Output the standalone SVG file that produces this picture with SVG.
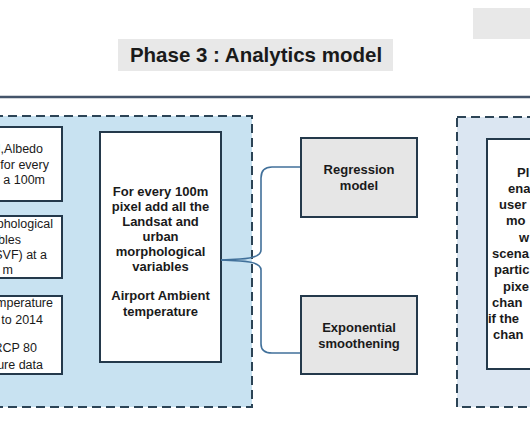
<svg xmlns="http://www.w3.org/2000/svg" width="530" height="443" viewBox="0 0 530 443">
<style>
.bg{fill:#ffffff}
.panelL{fill:#c8e2f1;stroke:#2c4456;stroke-width:2;stroke-dasharray:9 5}
.panelR{fill:#dbe6f2;stroke:#2c4456;stroke-width:2;stroke-dasharray:9 5}
.box{fill:#ffffff;stroke:#24394b;stroke-width:2}
.gbox{fill:#e6e6e6;stroke:#24394b;stroke-width:2}
.t{font-family:"Liberation Sans",Arial,sans-serif;font-size:12.5px;fill:#1a1a1a}
.b{font-family:"Liberation Sans",Arial,sans-serif;font-size:13px;font-weight:bold;fill:#1a1a1a}
.conn{fill:none;stroke:#41709a;stroke-width:1.6}
</style>
<rect class="bg" x="0" y="0" width="530" height="443"/>
<g id="phase4-tab">
<rect x="473" y="8" width="62" height="31" fill="#e8e8e8"/>
</g>
<g id="title">
<rect x="118" y="39" width="275" height="32" fill="#e8e8e8"/>
<text x="256" y="62" text-anchor="middle" font-family="'Liberation Sans',Arial,sans-serif" font-size="20.5" font-weight="bold" fill="#1a1a1a">Phase 3 : Analytics model</text>
</g>
<line x1="0" y1="97" x2="530" y2="97" stroke="#44546a" stroke-width="2.5"/>
<g id="left-panel">
<rect class="panelL" x="-20" y="116" width="272" height="291"/>
</g>
<g id="input-landsat">
<rect class="box" x="-20" y="127" width="82" height="74"/>
<text class="t" text-anchor="end"><tspan x="43" y="153">I,Albedo</tspan><tspan x="49" y="168.5">for every</tspan><tspan x="45" y="184">a 100m</tspan></text>
</g>
<g id="input-morph">
<rect class="box" x="-20" y="216" width="82" height="62"/>
<text class="t" text-anchor="end"><tspan x="53" y="228">phological</tspan><tspan x="21" y="243.5">bles</tspan><tspan x="47" y="259">SVF) at a</tspan><tspan x="13" y="274">m</tspan></text>
</g>
<g id="input-temp">
<rect class="box" x="-20" y="296" width="82" height="78"/>
<text class="t" text-anchor="end"><tspan x="53" y="307">mperature</tspan><tspan x="43" y="324">9 to 2014</tspan><tspan x="37" y="352">RCP 80</tspan><tspan x="43" y="369">ure data</tspan></text>
</g>
<g id="combine">
<rect class="box" x="100" y="132" width="121" height="230"/>
<text class="b" text-anchor="middle"><tspan x="160.5" y="196">For every 100m</tspan><tspan x="160.5" y="211">pixel add all the</tspan><tspan x="160.5" y="226">Landsat and</tspan><tspan x="160.5" y="241">urban</tspan><tspan x="160.5" y="256">morphological</tspan><tspan x="160.5" y="271">variables</tspan><tspan x="160.5" y="300">Airport Ambient</tspan><tspan x="160.5" y="315.5">temperature</tspan></text>
</g>
<g id="connectors">
<path class="conn" d="M301,167 L272,167 Q261,167 261,178 L261,250 Q261,258 240,259 L221,260"/>
<path class="conn" d="M221,260 L240,261 Q261,262 261,270 L261,344 Q261,353 272,353 L301,353"/>
</g>
<g id="regression">
<rect class="gbox" x="301" y="138" width="116" height="79"/>
<text class="b" text-anchor="middle"><tspan x="359" y="174">Regression</tspan><tspan x="359" y="190">model</tspan></text>
</g>
<g id="smoothing">
<rect class="gbox" x="301" y="296" width="116" height="78"/>
<text class="b" text-anchor="middle"><tspan x="359" y="331.5">Exponential</tspan><tspan x="359" y="347.5">smoothening</tspan></text>
</g>
<g id="right-panel">
<rect class="panelR" x="457" y="117" width="100" height="290"/>
</g>
<g id="platform">
<rect class="box" x="487" y="139" width="80" height="230"/>
<text class="b"><tspan x="517" y="176.5">Pl</tspan><tspan x="508" y="192.5">ena</tspan><tspan x="499" y="209">user</tspan><tspan x="506" y="225">mo</tspan><tspan x="519" y="241.5">w</tspan><tspan x="492" y="258">scena</tspan><tspan x="494" y="274">partic</tspan><tspan x="503" y="290.5">pixe</tspan><tspan x="492" y="306.5">chan</tspan><tspan x="488" y="323">if the</tspan><tspan x="493" y="339">chan</tspan></text>
</g>
</svg>
